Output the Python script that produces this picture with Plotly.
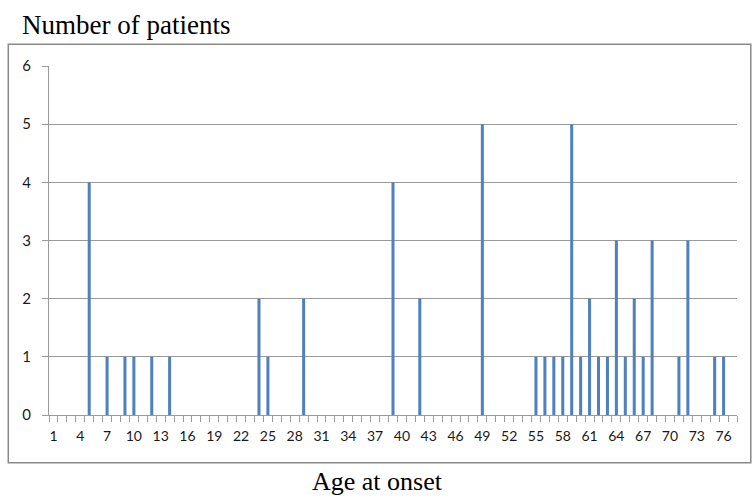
import plotly.graph_objects as go

# ---- data ----
ages = list(range(1, 78))
counts = [
    0, 0, 0, 0, 4, 0, 1, 0, 1, 1,
    0, 1, 0, 1, 0, 0, 0, 0, 0, 0,
    0, 0, 0, 2, 1, 0, 0, 0, 2, 0,
    0, 0, 0, 0, 0, 0, 0, 0, 4, 0,
    0, 2, 0, 0, 0, 0, 0, 0, 5, 0,
    0, 0, 0, 0, 1, 1, 1, 1, 5, 1,
    2, 1, 1, 3, 1, 2, 1, 3, 0, 0,
    1, 3, 0, 0, 1, 1, 0,
]
x_tick_values = list(range(1, 78, 3))
x_tick_labels = [str(v) for v in x_tick_values]
y_tick_values = [0, 1, 2, 3, 4, 5, 6]

# ---- layout geometry (pixels) ----
W, H = 752, 502
L, R, T, B = 49, 736.7, 66, 415
PW, PH = R - L, B - T


def px(x):
    return (x - L) / PW


def py(y):
    return (B - y) / PH


GRID = "#9a9a9a"
BAR = "#4F81BD"

fig = go.Figure(
    go.Bar(x=ages, y=counts, marker=dict(color=BAR, line=dict(width=0)), width=0.34)
)

fig.update_layout(
    width=W,
    height=H,
    margin=dict(l=L, r=W - R, t=T, b=H - B),
    paper_bgcolor="white",
    plot_bgcolor="white",
    showlegend=False,
    font=dict(family="Lato", size=14, color="#1a1a1a"),
)

fig.update_xaxes(
    range=[0.5, 77.5],
    tickmode="array",
    tickvals=x_tick_values,
    ticktext=x_tick_labels,
    ticks="",
    showgrid=False,
    zeroline=False,
    showline=True,
    linecolor=GRID,
    linewidth=1,
    tickfont=dict(family="Lato", size=14, color="#1a1a1a"),
    ticklabelstandoff=8,
    minor=dict(tick0=0.5, dtick=1, ticks="outside", ticklen=6, tickcolor=GRID, tickwidth=1, showgrid=False),
)

fig.update_yaxes(
    range=[0, 6],
    tickmode="array",
    tickvals=y_tick_values,
    ticks="outside",
    ticklen=6,
    tickcolor=GRID,
    showgrid=True,
    gridcolor=GRID,
    gridwidth=1,
    zeroline=False,
    showline=True,
    linecolor=GRID,
    linewidth=1,
    tickfont=dict(family="Lato", size=15, color="#1a1a1a"),
    ticklabelstandoff=8,
)

# outer chart border
fig.add_shape(
    type="rect",
    xref="paper", yref="paper",
    x0=px(8.3), x1=px(750.5), y0=py(44.3), y1=py(462.7),
    line=dict(color="#8a8a8a", width=1.5),
    fillcolor="rgba(0,0,0,0)",
    layer="below",
)

fig.add_annotation(
    text="Number of patients",
    xref="paper", yref="paper",
    x=px(20), y=py(25), xanchor="left", yanchor="middle",
    showarrow=False,
    font=dict(family="Liberation Serif", size=27, color="#000"),
)
fig.add_annotation(
    text="Age at onset",
    xref="paper", yref="paper",
    x=px(377), y=py(481), xanchor="center", yanchor="middle",
    showarrow=False,
    font=dict(family="Liberation Serif", size=26, color="#000"),
)

fig.write_html(
    "out.html",
    config={"displayModeBar": False},
    post_script="document.body.style.margin='0';document.body.style.overflow='hidden';",
)
